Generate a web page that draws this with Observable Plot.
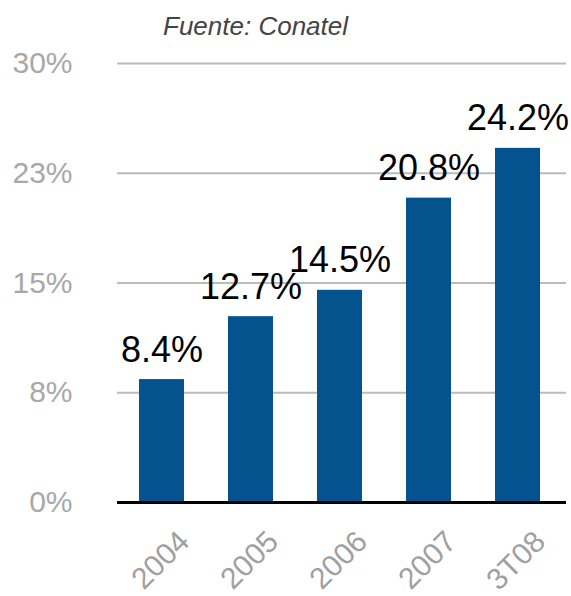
<!DOCTYPE html>
<html>
<head>
<meta charset="utf-8">
<script src="https://cdn.jsdelivr.net/npm/d3@7"></script>
<script src="https://cdn.jsdelivr.net/npm/@observablehq/plot@0.6"></script>
<style>
  body { margin: 0; background: #fff; font-family: "Liberation Sans", Arial, Helvetica, sans-serif; }
  #caption { box-sizing: border-box; height: 44px; padding-top: 13px; padding-left: 163px; font-size: 26px; line-height: 1; font-style: italic; color: #444; }
</style>
</head>
<body>
<div id="caption">Fuente: Conatel</div>
<div id="chart"></div>
<script>
const categories = ["2004", "2005", "2006", "2007", "3T08"];
const values = [8.4, 12.7, 14.5, 20.8, 24.2];
const valueLabels = ["8.4%", "12.7%", "14.5%", "20.8%", "24.2%"];
const yTicks = [0, 7.5, 15, 22.5, 30];
const yTickLabels = ["0%", "8%", "15%", "23%", "30%"];

const data = categories.map((c, i) => ({cat: c, value: values[i], label: valueLabels[i]}));

const chart = Plot.plot({
  width: 571,
  height: 552,
  marginTop: 19,
  marginBottom: 94,
  marginLeft: 117,
  marginRight: 5,
  style: {fontFamily: "'Liberation Sans', Arial, Helvetica, sans-serif", background: "#fff"},
  x: {domain: categories, range: [115, 564], padding: 0.5, paddingOuter: 0.25, axis: null},
  y: {domain: [0, 30], axis: null},
  marks: [
    Plot.ruleY(yTicks, {stroke: "#bbbbbb", strokeWidth: 2}),
    Plot.text(yTicks, {x: null, y: d => d, text: (d, i) => yTickLabels[i], frameAnchor: "left", dx: -45, textAnchor: "end", fill: "#a8a8a8", fontSize: 30}),
    Plot.barY(data, {x: "cat", y: "value", fill: "#04538f"}),
    Plot.ruleY([0], {stroke: "#000", strokeWidth: 3}),
    Plot.text(data, {x: "cat", y: "value", text: "label", dy: -18, lineAnchor: "bottom", fill: "#000", fontSize: 36}),
    Plot.text(categories, {x: d => d, frameAnchor: "bottom", text: d => d, rotate: -45, textAnchor: "end", lineAnchor: "bottom", dx: 29, dy: 41, fill: "#a0a0a0", fontSize: 30})
  ]
});
document.getElementById("chart").appendChild(chart);
</script>
</body>
</html>
